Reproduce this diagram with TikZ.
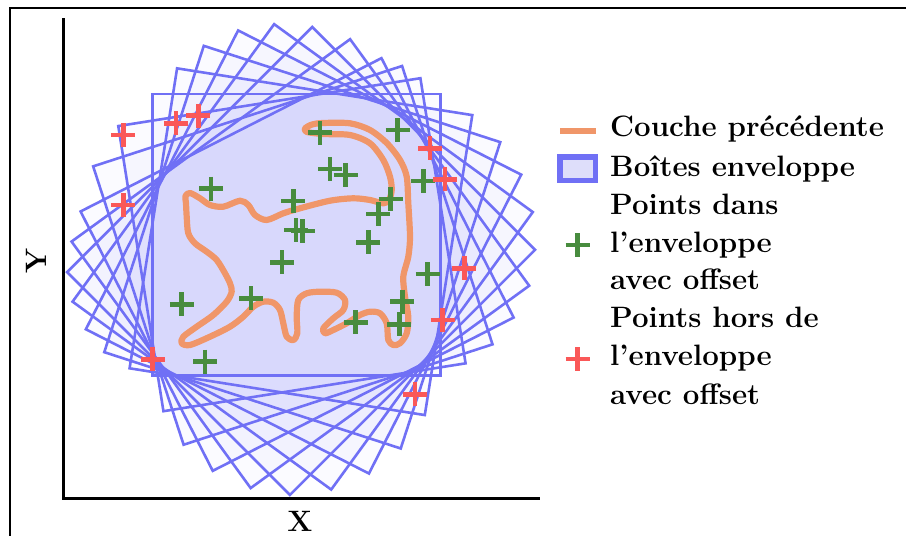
\documentclass[tikz,border=0pt]{standalone}
\begin{document}
\definecolor{boxblue}{RGB}{112,112,245}
\definecolor{catorange}{RGB}{240,150,105}
\definecolor{ptgreen}{RGB}{72,140,62}
\definecolor{ptred}{RGB}{250,88,88}
\definecolor{legfill}{RGB}{222,222,250}
\newcommand\plusmark[3]{\draw[#1] (#2-12,#3) -- (#2+12,#3) (#2,#3-12) -- (#2,#3+12);}
\begin{tikzpicture}[x=1pt,y=-1pt,
  boxfill/.style={fill=boxblue,fill opacity=0.033},
  boxedge/.style={draw=boxblue,line width=2.6pt,line join=miter},
  catline/.style={draw=catorange,line width=6.2pt,line join=round,line cap=round},
  gplus/.style={draw=ptgreen,line width=4.5pt},
  rplus/.style={draw=ptred,line width=4.5pt},
  axisline/.style={draw=black,line width=3pt},
  lab/.style={font=\fontsize{29.5}{35}\selectfont\bfseries,inner sep=0pt}]
\useasboundingbox (0,0) rectangle (906,536);
% outer frame
\draw[line width=1.5pt] (10,536) -- (10,8) -- (906,8);
% bounding boxes
\def\boxdata{0/152.5/440.5/94/375.5, 9/97.1/403.0/143.0/431.7, 18/37.2/362.0/187.0/479.7,
  27/-24.2/313.5/225.0/516.1, 36/-84.1/260.2/237.5/542.2, 45/-145/201.7/239.9/555,
  54/-201.4/141.6/236.0/555.7, 63/-254.4/81.0/226.0/543.7, 72/-302.7/19.4/208/519.7,
  81/-343.5/-39.8/185.6/484.5}
\foreach \t/\amin/\amax/\bmin/\bmax in \boxdata {
  \begin{scope}[rotate=\t]
    \path[boxfill] (\amin,\bmin) rectangle (\amax,\bmax);
  \end{scope}
}
\foreach \t/\amin/\amax/\bmin/\bmax in \boxdata {
  \begin{scope}[rotate=\t]
    \path[boxedge] (\amin,\bmin) rectangle (\amax,\bmax);
  \end{scope}
}
% cat (previous layer)
\draw[catline] plot[smooth cycle,tension=0.5] coordinates {
(305,128.5) (312,124.5) (323,123) (350,123.3) (370,130) (387,143.3) (400,160)
(406.7,176.7) (408.3,203.3) (410,236.7) (408.3,256.7) (403.3,276.7) (405,296.7)
(408.3,316.7) (406.7,333.3) (400,343.3) (393.3,345) (388.3,340) (386.7,323.3)
(380,313.3) (370,311.7) (360,315) (346.7,323.3) (333.3,330) (325,333.3)
(323.3,328.3) (333.3,318.3) (343.3,310) (345,300) (336.7,292.7) (320,291.7)
(306.7,293.3) (298.3,300) (296.7,316.7) (297.3,333.3) (293.3,340) (286.7,336.7)
(283.3,323.3) (280,310) (273.3,302.7) (263.3,301.7) (253.3,306.7) (243.3,316.7)
(230,326.7) (210,336.7) (190,345) (181.7,343.3) (183.3,336.7) (196.7,326.7)
(213.3,315) (226.7,301.7) (231.7,291.7) (230,283.3) (225,273.3) (216.7,260)
(206.7,251.7) (195,243.3) (188.3,233.3) (186.7,216.7) (186,203.3) (185.5,196)
(190,193) (200,198.3) (210,205) (223.3,206.7) (240,200.7) (248.3,205) (255,215)
(266.7,220) (283.3,213.3) (300,208.3) (330,200.7) (353.3,198.3) (370,200)
(383.3,203.3) (389,200) (391.7,190) (390,176.7) (383.3,160) (370,143.3)
(350,135) (323.3,134) (307,132)};
% points inside
\foreach \px/\py in {320/132.7, 397.7/130, 330/169, 345.7/175, 423.3/181, 211/188.7,
  293.3/201, 390.7/199, 378.3/214, 296/230, 302.7/231, 368.3/242.3, 282/262.3,
  427.7/274, 181.7/304.3, 251/298.3, 402.3/301.7, 355.7/322.3, 399.3/324.3, 205/361.7}
  {\plusmark{gplus}{\px}{\py}}
% points outside
\foreach \px/\py in {123.3/135, 176/123.3, 198.3/115.7, 123.3/205, 430/148.3, 445/179.3,
  464.3/268.3, 442.7/320, 152.7/359.3, 415/394.3}
  {\plusmark{rplus}{\px}{\py}}
% axes
\coordinate (yaxtop) at (63,18);
\coordinate (origin) at (63,498);
\coordinate (xaxend) at (540,498);
\draw[axisline] (yaxtop) -- (origin) -- (xaxend);
\node[lab,anchor=base] (xlab) at (300,531) {X};
\node[lab,anchor=base,rotate=90] (ylab) at (46,261) {Y};
% legend
\coordinate (lg1a) at (560,131);
\coordinate (lg1b) at (596,131);
\draw[catorange,line width=6pt] (lg1a) -- (lg1b);
\draw[draw=boxblue,fill=legfill,line width=5.5pt] (560,157) rectangle (595.5,180.5);
\plusmark{gplus}{577.7}{245}
\plusmark{rplus}{577.7}{359}
\node[lab,anchor=base west] (t1) at (610,136.7) {Couche précédente};
\node[lab,anchor=base west] (t2) at (610,176) {Boîtes enveloppe};
\node[lab,anchor=base west] (t3) at (610,214) {Points dans};
\node[lab,anchor=base west] (t4) at (610,252) {l’enveloppe};
\node[lab,anchor=base west] (t5) at (610,289.5) {avec offset};
\node[lab,anchor=base west] (t6) at (610,327.7) {Points hors de};
\node[lab,anchor=base west] (t7) at (610,365.7) {l’enveloppe};
\node[lab,anchor=base west] (t8) at (610,404) {avec offset};
\end{tikzpicture}
\end{document}
